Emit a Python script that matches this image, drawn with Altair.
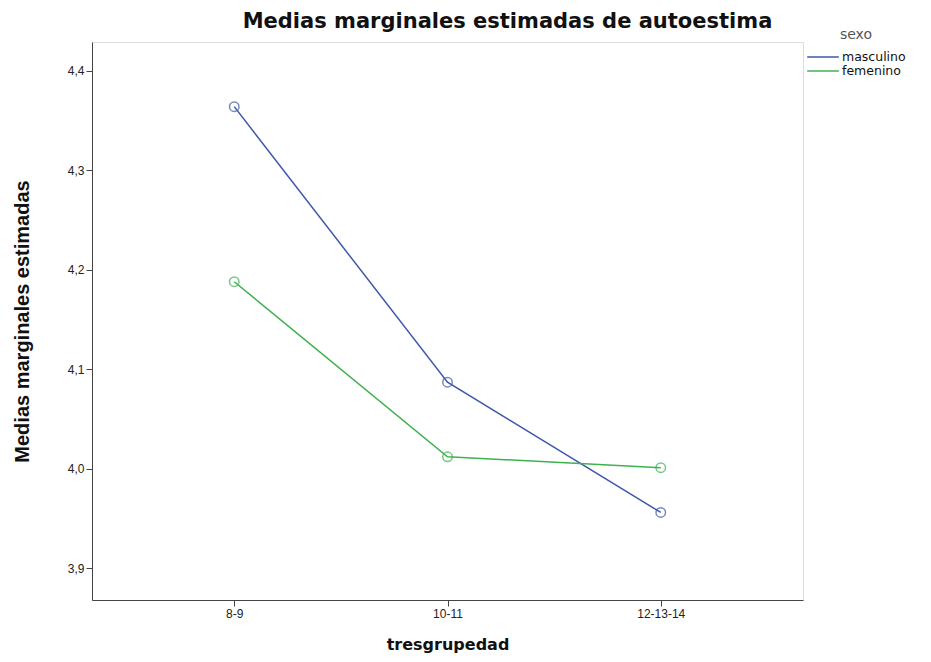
import altair as alt
import pandas as pd

groups = ["8-9", "10-11", "12-13-14"]
sexo = ["masculino", "femenino"]
masculino = [4.364, 4.087, 3.956]
femenino = [4.188, 4.012, 4.001]
y_ticks = [3.9, 4.0, 4.1, 4.2, 4.3, 4.4]
colors = ["#3E58AC", "#3EB24F"]

rows = []
for s, vals in zip(sexo, [masculino, femenino]):
    for g, v in zip(groups, vals):
        rows.append({"tresgrupedad": g, "sexo": s, "valor": v})
df = pd.DataFrame(rows)

FONT = "Liberation Sans"
WIDE = "DejaVu Sans"

x = alt.X("tresgrupedad:O", sort=groups,
          scale=alt.Scale(type="point", padding=0.667),
          axis=alt.Axis(title="tresgrupedad", labelAngle=0, labelFontSize=12,
                        labelColor="#222", labelFont=FONT,
                        titleFont=WIDE, titleFontSize=16, titleFontWeight="bold",
                        titleColor="#111", titlePadding=17,
                        tickSize=6, tickColor="#444", domainColor="#444",
                        labelPadding=2, grid=False))
y = alt.Y("valor:Q",
          scale=alt.Scale(domain=[3.868, 4.429], zero=False, nice=False),
          axis=alt.Axis(title="Medias marginales estimadas", values=y_ticks,
                        labelExpr="replace(format(datum.value, '.1f'), '.', ',')",
                        labelFontSize=12, labelColor="#222", labelFont=FONT,
                        titleFont=FONT,
                        titleFontSize=20,
                        titleFontWeight="bold", titleColor="#111",
                        titlePadding=35, tickSize=6, tickColor="#444",
                        domainColor="#444", labelPadding=2, grid=False))
color_scale = alt.Scale(domain=sexo, range=colors)

lines = alt.Chart(df).mark_line(strokeWidth=1.5).encode(
    x=x, y=y,
    color=alt.Color("sexo:N", scale=color_scale, sort=sexo,
                    legend=alt.Legend(title="sexo", orient="none",
                                      legendX=714, legendY=-14,
                                      symbolType="stroke", symbolSize=1000,
                                      symbolStrokeWidth=1.5, clipHeight=14,
                                      labelFontSize=12.5, labelFont=WIDE,
                                      labelColor="#111",
                                      titleFont=WIDE, titleFontSize=14,
                                      titleFontWeight="normal", titleColor="#555",
                                      titleAnchor="middle", titlePadding=8,
                                      rowPadding=0, labelOffset=2))
)
points = alt.Chart(df).mark_point(size=90, filled=False, strokeWidth=1.5).encode(
    x=x, y=y,
    color=alt.Color("sexo:N", scale=color_scale, sort=sexo, legend=None)
)

chart = (lines + points).properties(
    width=711, height=558,
    title=alt.TitleParams("Medias marginales estimadas de autoestima",
                          font=WIDE, fontSize=21, fontWeight="bold",
                          color="#111", anchor="middle", dx=60, offset=-4),
    autosize=alt.AutoSizeParams(type="none"),
    padding={"left": 84, "top": 34, "right": 120, "bottom": 62},
).configure_view(
    fill="#F0F0F0", stroke="#444", strokeWidth=1
).configure(background="white")

chart.save("out.html", embed_options={"renderer": "svg", "actions": False})
